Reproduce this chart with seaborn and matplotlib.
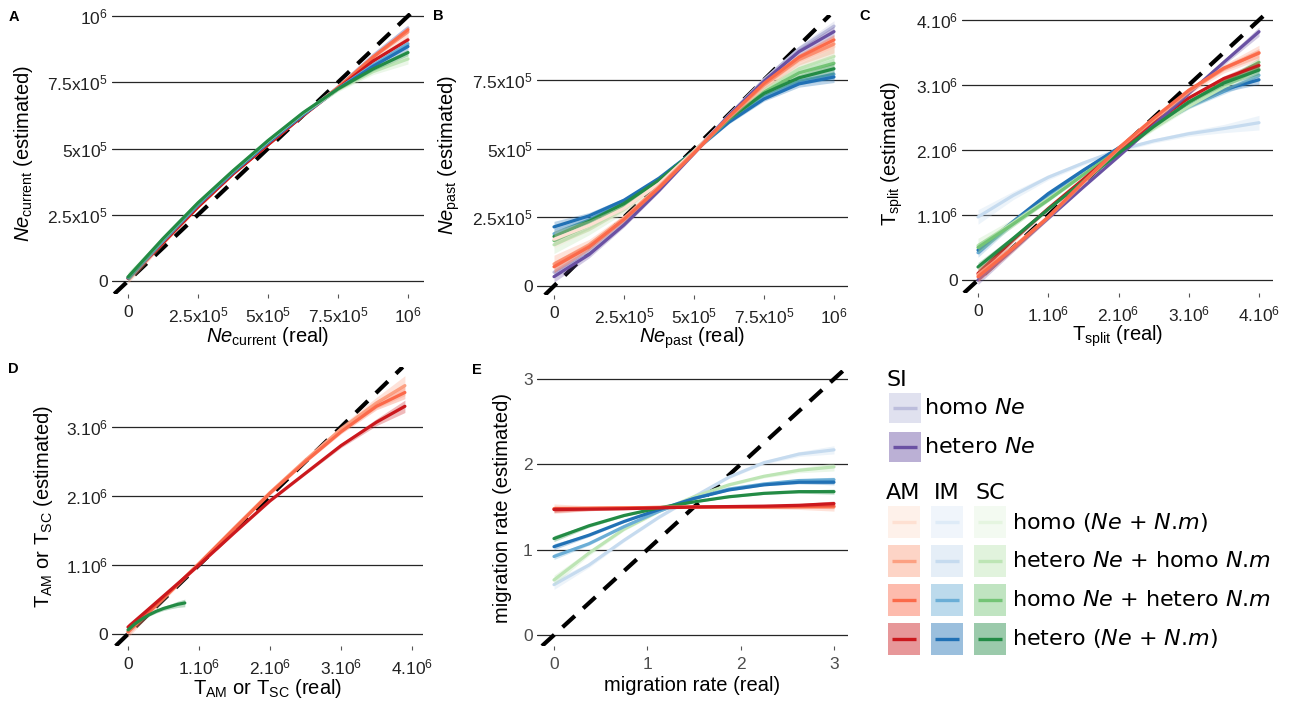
import matplotlib
matplotlib.use('Agg')
import matplotlib.pyplot as plt
import seaborn as sns
import numpy as np
from matplotlib.patches import Rectangle

# colour scales per demographic model (light -> dark = homo -> hetero)
COLS = {
    'SI': ['#bcbddc', '#6a51a3'],
    'AM': ['#fee0d2', '#fca082', '#fb6a4a', '#cb181d'],
    'IM': ['#deebf7', '#c6dbef', '#6baed6', '#2171b5'],
    'SC': ['#e5f5e0', '#bde5b5', '#74c476', '#238b45'],
}

# ---- panel A : Ne current (x10^6) ----
a_x = [0, .125, .25, .375, .5, .625, .75, .875, 1]
a_curves = [
    ('SI', 0, [0.012, 0.148, 0.283, 0.407, 0.518, 0.628, 0.732, 0.850, 0.955]),
    ('AM', 1, [0.010, 0.146, 0.281, 0.405, 0.516, 0.626, 0.730, 0.845, 0.940]),
    ('AM', 2, [0.010, 0.145, 0.280, 0.405, 0.515, 0.625, 0.730, 0.845, 0.948]),
    ('AM', 3, [0.010, 0.145, 0.280, 0.404, 0.514, 0.624, 0.726, 0.830, 0.910]),
    ('IM', 2, [0.012, 0.152, 0.288, 0.410, 0.522, 0.628, 0.725, 0.815, 0.895]),
    ('IM', 3, [0.012, 0.153, 0.289, 0.410, 0.523, 0.628, 0.724, 0.810, 0.885]),
    ('SC', 1, [0.015, 0.158, 0.294, 0.415, 0.528, 0.633, 0.722, 0.790, 0.838]),
    ('SC', 3, [0.015, 0.160, 0.295, 0.416, 0.530, 0.635, 0.725, 0.800, 0.862]),
]
a_band = [0.012, 0.007, 0.005, 0.004, 0.004, 0.004, 0.005, 0.007, 0.012]

# ---- panel B : Ne past (x10^6) ----
b_x = [0, .125, .25, .375, .5, .625, .75, .875, 1]
b_curves = [
    ('IM', 2, [0.190, 0.240, 0.305, 0.388, 0.490, 0.598, 0.688, 0.745, 0.770]),
    ('IM', 3, [0.215, 0.255, 0.312, 0.392, 0.490, 0.596, 0.680, 0.735, 0.760]),
    ('SC', 1, [0.150, 0.205, 0.278, 0.375, 0.490, 0.612, 0.715, 0.790, 0.835]),
    ('SC', 2, [0.165, 0.220, 0.288, 0.380, 0.490, 0.608, 0.705, 0.775, 0.810]),
    ('SC', 3, [0.180, 0.235, 0.300, 0.385, 0.490, 0.608, 0.700, 0.757, 0.790]),
    ('AM', 0, [0.170, 0.220, 0.282, 0.372, 0.490, 0.618, 0.728, 0.818, 0.870]),
    ('SI', 0, [0.050, 0.128, 0.232, 0.352, 0.485, 0.622, 0.750, 0.862, 0.945]),
    ('SI', 1, [0.034, 0.114, 0.222, 0.347, 0.482, 0.620, 0.745, 0.852, 0.925]),
    ('AM', 1, [0.080, 0.150, 0.247, 0.362, 0.487, 0.613, 0.730, 0.823, 0.880]),
    ('AM', 2, [0.070, 0.142, 0.242, 0.357, 0.483, 0.616, 0.737, 0.832, 0.895]),
]
b_band = [0.02, 0.012, 0.008, 0.006, 0.006, 0.006, 0.008, 0.012, 0.02]

# ---- panel C : T split (x10^6) ----
c_x = [0, .5, 1, 1.5, 2, 2.5, 3, 3.5, 4]
c_curves = [
    ('IM', 1, [0.97, 1.30, 1.58, 1.80, 2.00, 2.14, 2.25, 2.33, 2.42]),
    ('IM', 2, [0.42, 0.88, 1.30, 1.68, 2.03, 2.36, 2.66, 2.90, 3.15]),
    ('IM', 3, [0.46, 0.90, 1.33, 1.69, 2.03, 2.35, 2.68, 2.93, 3.08]),
    ('SC', 1, [0.53, 0.88, 1.25, 1.62, 1.98, 2.33, 2.67, 2.97, 3.25]),
    ('SC', 2, [0.50, 0.86, 1.23, 1.62, 2.00, 2.38, 2.73, 3.05, 3.35]),
    ('AM', 3, [0.10, 0.62, 1.10, 1.55, 2.00, 2.42, 2.80, 3.10, 3.30]),
    ('SI', 1, [0.00, 0.47, 0.95, 1.43, 1.90, 2.38, 2.87, 3.35, 3.82]),
    ('SC', 3, [0.20, 0.64, 1.09, 1.52, 1.95, 2.36, 2.74, 3.03, 3.23]),
    ('AM', 1, [0.08, 0.50, 0.97, 1.50, 2.02, 2.47, 2.90, 3.25, 3.50]),
    ('AM', 2, [0.05, 0.49, 0.97, 1.51, 2.03, 2.49, 2.92, 3.26, 3.49]),
]
c_band = [0.07, 0.04, 0.025, 0.02, 0.02, 0.02, 0.025, 0.04, 0.07]

# ---- panel D : T AM / T SC (x10^6) ----
d_x = [0, .5, 1, 1.5, 2, 2.5, 3, 3.5, 3.9]
d_curves = [
    ('AM', 1, [0.03, 0.52, 1.02, 1.54, 2.05, 2.52, 2.97, 3.35, 3.60]),
    ('AM', 2, [0.03, 0.52, 1.02, 1.53, 2.04, 2.50, 2.93, 3.30, 3.50]),
    ('AM', 3, [0.10, 0.55, 1.00, 1.47, 1.93, 2.33, 2.73, 3.07, 3.30]),
]
d_band = [0.05, 0.025, 0.02, 0.02, 0.02, 0.02, 0.03, 0.05, 0.09]
d_sc_x = [0, .1, .2, .3, .4, .5, .6, .7, .8]
d_sc = [0.06, 0.15, 0.22, 0.28, 0.33, 0.37, 0.40, 0.43, 0.45]
d_sc_band = [0.03, 0.02, 0.02, 0.02, 0.025, 0.03, 0.035, 0.045, 0.055]

# ---- panel E : migration rate ----
e_x = [0, .375, .75, 1.125, 1.5, 1.875, 2.25, 2.625, 3]
e_curves = [
    ('IM', 1, [0.59, 0.82, 1.11, 1.38, 1.62, 1.85, 2.02, 2.12, 2.17]),
    ('SC', 1, [0.645, 0.96, 1.24, 1.45, 1.62, 1.76, 1.86, 1.93, 1.97]),
    ('IM', 2, [0.92, 1.07, 1.27, 1.45, 1.60, 1.71, 1.77, 1.81, 1.82]),
    ('IM', 3, [1.035, 1.17, 1.33, 1.47, 1.60, 1.70, 1.76, 1.79, 1.79]),
    ('SC', 3, [1.13, 1.28, 1.40, 1.49, 1.56, 1.62, 1.66, 1.68, 1.68]),
    ('AM', 1, [1.48, 1.485, 1.49, 1.495, 1.50, 1.50, 1.50, 1.50, 1.50]),
    ('AM', 2, [1.48, 1.485, 1.49, 1.495, 1.50, 1.50, 1.50, 1.505, 1.51]),
    ('AM', 3, [1.47, 1.475, 1.48, 1.49, 1.50, 1.505, 1.51, 1.52, 1.54]),
]
e_band = [0.035, 0.018, 0.012, 0.01, 0.01, 0.01, 0.012, 0.018, 0.03]

sns.set_style('white')
plt.rcParams['font.family'] = ['Liberation Sans', 'DejaVu Sans']
plt.rcParams['text.color'] = 'black'
plt.rcParams['axes.labelcolor'] = 'black'
plt.rcParams['mathtext.fontset'] = 'custom'
plt.rcParams['mathtext.rm'] = 'Liberation Sans'
plt.rcParams['mathtext.it'] = 'Liberation Sans:italic'
plt.rcParams['mathtext.bf'] = 'Liberation Sans:bold'

W, H = 1293, 702
fig = plt.figure(figsize=(W / 100, H / 100), dpi=100)


def make_ax(box, xref, yref):
    l, r, t, b = box
    ax = fig.add_axes([l / W, 1 - b / H, (r - l) / W, (b - t) / H])
    (x0, px0), (x1, px1) = xref
    sx = (x1 - x0) / (px1 - px0)
    ax.set_xlim(x0 + (l - px0) * sx, x0 + (r - px0) * sx)
    (y0, py0), (y1, py1) = yref
    sy = (y1 - y0) / (py1 - py0)
    ax.set_ylim(y0 + (b - py0) * sy, y0 + (t - py0) * sy)
    for s in ax.spines.values():
        s.set_visible(False)
    ax.grid(False)
    ax.grid(axis='y', color='#262626', lw=0.9)
    ax.set_axisbelow(True)
    ax.tick_params(axis='y', length=0, labelsize=12.5, labelcolor='#222222', pad=3)
    ax.tick_params(axis='x', length=3, width=0.8, color='#555555', labelsize=12.5,
                   labelcolor='#222222', pad=5, bottom=True)
    return ax


def draw_curve(ax, x, y, col, band, light, z):
    y = np.array(y, dtype=float)
    w = np.array(band) * (1.6 if light else 1.0)
    ax.fill_between(x, y - w, y + w, color=col, alpha=0.3, lw=0, zorder=z)
    sns.lineplot(x=x, y=y, color=col, lw=2.3, ax=ax, zorder=z + 0.5)


def diag(ax):
    ax.axline((0, 0), slope=1, color='black', lw=3, dashes=(4, 2.7), zorder=1.5)


def fill_panel(ax, x, curves, band):
    diag(ax)
    for i, (model, lvl, y) in enumerate(curves):
        draw_curve(ax, x, y, COLS[model][lvl], band, lvl < 2 and model != 'SI', 2 + i)


def lab(ax, xl, yl, xl_y=-0.11, yl_x=-0.25):
    ax.set_xlabel(xl, fontsize=14.5, color='black')
    ax.set_ylabel(yl, fontsize=14.5, color='black')
    ax.xaxis.set_label_coords(0.5, xl_y)
    ax.yaxis.set_label_coords(yl_x, 0.5)


ne_ticks = [0, .25, .5, .75, 1]
ne_labels = ['0', r'2.5x$10^{5}$', r'5x$10^{5}$', r'7.5x$10^{5}$', r'$10^{6}$']
t_ticks = [0, 1, 2, 3, 4]
t_labels = ['0', r'1.$10^{6}$', r'2.$10^{6}$', r'3.$10^{6}$', r'4.$10^{6}$']

# A
axA = make_ax((112, 424, 13, 294), ((0, 128), (1, 408)), ((0, 281), (1, 16)))
fill_panel(axA, a_x, a_curves, a_band)
axA.set_xticks(ne_ticks, ne_labels)
axA.set_yticks(ne_ticks, ne_labels)
lab(axA, r'$\mathit{Ne}_{\mathrm{current}}$ (real)', r'$\mathit{Ne}_{\mathrm{current}}$ (estimated)', yl_x=-0.247)

# B
axB = make_ax((537, 848, 15, 295), ((0, 554), (1, 834)), ((0, 286), (1, 11)))
fill_panel(axB, b_x, b_curves, b_band)
axB.set_xticks(ne_ticks, ne_labels)
axB.set_yticks(ne_ticks[:4], ne_labels[:4])
lab(axB, r'$\mathit{Ne}_{\mathrm{past}}$ (real)', r'$\mathit{Ne}_{\mathrm{past}}$ (estimated)', yl_x=-0.241)

# C
axC = make_ax((962, 1273, 14, 293), ((0, 978), (4, 1259)), ((0, 280), (4, 20)))
fill_panel(axC, c_x, c_curves, c_band)
axC.set_xticks(t_ticks, t_labels)
axC.set_yticks(t_ticks, t_labels)
lab(axC, r'T$_{\mathrm{split}}$ (real)', r'T$_{\mathrm{split}}$ (estimated)', yl_x=-0.183)

# D
axD = make_ax((112, 423, 367, 646), ((0, 128), (4, 412)), ((0, 634), (3, 427)))
fill_panel(axD, d_x, d_curves, d_band)
draw_curve(axD, d_sc_x, d_sc, COLS['SC'][3], d_sc_band, False, 10)
axD.set_xticks(t_ticks, t_labels)
axD.set_yticks(t_ticks[:4], t_labels[:4])
lab(axD, r'T$_{\mathrm{AM}}$ or T$_{\mathrm{SC}}$ (real)', r'T$_{\mathrm{AM}}$ or T$_{\mathrm{SC}}$ (estimated)', yl_x=-0.183)

# E
axE = make_ax((537, 848, 370, 646), ((0, 554), (3, 834)), ((0, 635), (3, 379)))
fill_panel(axE, e_x, e_curves, e_band)
axE.set_xticks([0, 1, 2, 3], ['0', '1', '2', '3'])
axE.set_yticks([0, 1, 2, 3], ['0', '1', '2', '3'])
axE.tick_params(labelcolor='#4d4d4d')
lab(axE, 'migration rate (real)', 'migration rate (estimated)', yl_x=-0.08)

# ---- legend + panel letters drawn in pixel space ----
lg = fig.add_axes([0, 0, 1, 1], zorder=-1)
lg.set_xlim(0, W)
lg.set_ylim(H, 0)
lg.axis('off')

for letter, (lx, ly) in zip('ABCDE', [(9, 17), (433, 16), (859, 16), (8, 369), (472, 370)]):
    lg.text(lx, ly, letter, fontsize=10.5, fontweight='bold', va='center', ha='left', color='black')

LEG_FONT = dict(fontsize=16, family=['DejaVu Sans'], math_fontfamily='dejavusans',
                va='center', color='black')


def swatch(x0, y0, col, w=32, h=31):
    lg.add_patch(Rectangle((x0, y0), w, h, facecolor=col, alpha=0.45, lw=0))
    lg.plot([x0 + 4, x0 + w - 4], [y0 + h / 2] * 2, color=col, lw=2.4, solid_capstyle='butt')


lg.text(887, 380, 'SI', **LEG_FONT)
si_labels = [r'homo $Ne$', r'hetero $Ne$']
for i, (y0, txt) in enumerate(zip([393, 432], si_labels)):
    swatch(889, y0, COLS['SI'][i], h=30)
    lg.text(924, y0 + 15, txt, **LEG_FONT)

for name, cx in zip(['AM', 'IM', 'SC'], [903, 947, 990]):
    lg.text(cx, 493, name, ha='center', **LEG_FONT)

mig_labels = [r'homo ($Ne$ + $N$.$m$)', r'hetero $Ne$ + homo $N$.$m$',
              r'homo $Ne$ + hetero $N$.$m$', r'hetero ($Ne$ + $N$.$m$)']
for i, (y0, txt) in enumerate(zip([506, 545, 584, 623], mig_labels)):
    for model, x0 in zip(['AM', 'IM', 'SC'], [888, 931, 974]):
        swatch(x0, y0, COLS[model][i], h=32)
    lg.text(1012, y0 + 16, txt, **LEG_FONT)

fig.savefig('out.png', dpi=100)
